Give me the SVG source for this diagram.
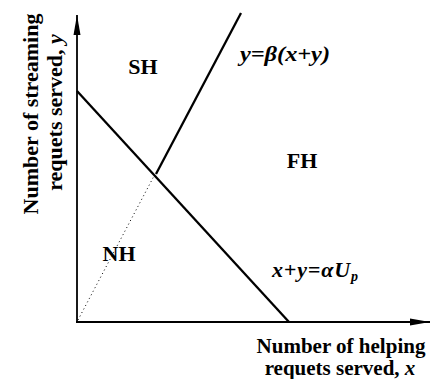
<svg xmlns="http://www.w3.org/2000/svg" width="433" height="379" viewBox="0 0 433 379">
<style>
.ln{stroke:#000;stroke-width:2.3;fill:none}
.ax{stroke:#000;stroke-width:1.8;fill:none}
.t{font-family:"Liberation Serif","Times New Roman",serif;fill:#000;font-weight:bold}
.i{font-style:italic}
</style>
<defs>
<marker id="ah" viewBox="0 0 20 8" refX="20" refY="4" markerWidth="20" markerHeight="8" markerUnits="userSpaceOnUse" orient="auto">
<path d="M0,0.5 L20,4 L0,7.5 Z" fill="#000"/>
</marker>
</defs>
<g id="connectors">
<line class="ax" x1="77" y1="323" x2="77" y2="15" marker-end="url(#ah)"/>
<line class="ax" x1="76" y1="322" x2="430" y2="322" marker-end="url(#ah)"/>
<line class="ln" x1="77" y1="91" x2="289" y2="322"/>
<line class="ln" x1="156" y1="174" x2="241" y2="13"/>
<line x1="78" y1="320" x2="154" y2="176" stroke="#000" stroke-width="1" stroke-dasharray="1 3"/>
</g>
<g id="SH"><text class="t" x="143" y="74" font-size="22" text-anchor="middle">SH</text></g>
<g id="FH"><text class="t" x="302" y="168" font-size="22" text-anchor="middle">FH</text></g>
<g id="NH"><text class="t" x="119" y="261" font-size="22" text-anchor="middle">NH</text></g>
<g id="eq1"><text class="t i" x="240" y="61" font-size="22" textLength="90" lengthAdjust="spacingAndGlyphs">y=β(x+y)</text></g>
<g id="eq2"><text class="t i" x="272" y="277" font-size="22" textLength="86" lengthAdjust="spacing">x+y=αU<tspan font-size="14" dy="4">p</tspan></text></g>
<g id="xlabel"><text class="t" font-size="21" text-anchor="middle"><tspan x="341" y="353">Number of helping</tspan><tspan x="340" y="375">requets served, <tspan class="i">x</tspan></tspan></text></g>
<g id="ylabel"><text class="t" font-size="22" text-anchor="middle" transform="translate(37.5,114) rotate(-90)"><tspan x="0" y="0">Number of streaming</tspan><tspan x="1.5" y="24">requets served, <tspan class="i">y</tspan></tspan></text></g>
</svg>
